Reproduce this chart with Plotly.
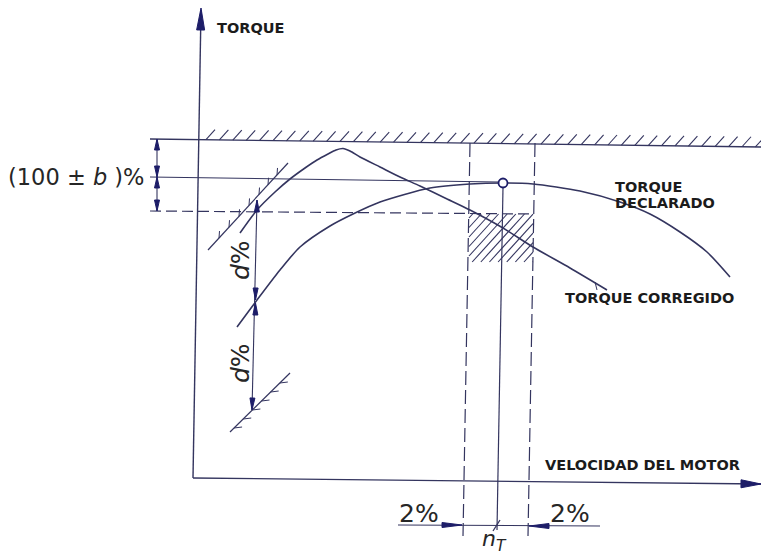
import numpy as np
import plotly.graph_objects as go

# Sheet coordinates: x grows to the right (engine speed), y grows downward.
W, H = 761, 557
LINE = "#34355f"
HEAD = "#1d1d68"
INK = "#1b1b1b"

# --- axes (slightly skewed as on the drawing) -------------------------------
torque_axis_x = [193, 201]
torque_axis_y = [478, 10]
speed_axis_x = [193, 761]
speed_axis_y = [478, 484]

# --- torque curves -----------------------------------------------------------
corr_x = [240, 257, 275, 290, 305, 317, 328, 336, 343, 350, 360, 380, 400, 420, 445, 470, 503, 533, 570, 607]
corr_y = [233, 210, 192, 179, 168, 160, 154, 150, 148.5, 151, 157, 167, 177, 186, 198, 210, 228, 247, 268, 290]

decl_x = [237, 257, 280, 300, 330, 353, 380, 430, 470, 503, 533, 580, 620, 650, 680, 707, 730]
decl_y = [327, 300, 270, 247, 226, 214, 202, 188, 184, 183, 184, 191, 202, 214, 232, 252, 277]

# --- limit / reference lines -----------------------------------------------
upper_limit_x = [150, 761]
upper_limit_y = [139, 147]
declared_x = [150, 499]
declared_y = [177, 182]
lower_band_x = [150, 533]
lower_band_y = [211, 214]
band_left_x = [470, 463]
band_right_x = [535, 528]
band_y = [143, 536]
nT_x = [503, 497]
nT_y = [187, 530]
nT_point = (503, 183)

# tolerance window below the declared torque
window_x = [469, 533]
window_y = [214, 262]

# d% limit lines
d_upper_x = [208, 288]
d_upper_y = [250, 163]
d_lower_x = [230, 290]
d_lower_y = [432, 373]

# dimension chains: (tail, tip)
b_dims = [((157, 158), (157, 139)), ((157, 158), (157, 177)),
          ((157, 194), (157, 177)), ((157, 194), (157, 211))]
d_dims = [((256.5, 250), (257, 200)), ((256, 250), (255.5, 300)),
          ((255, 355), (255.5, 303)), ((254, 355), (252, 410))]
speed_dims = [((398, 525), (462, 525)), ((600, 526), (529, 526))]

fig = go.Figure()


def lines(xs, ys, width=1.3, dash=None, color=LINE, shape="linear"):
    fig.add_trace(go.Scatter(
        x=xs, y=ys, mode="lines", hoverinfo="skip", showlegend=False,
        line=dict(color=color, width=width, dash=dash, shape=shape, smoothing=0.7)))


def head(tail, tip, length, width, color=HEAD):
    tx, ty = tip
    dx, dy = tip[0] - tail[0], tip[1] - tail[1]
    n = np.hypot(dx, dy)
    ux, uy = dx / n, dy / n
    px, py = -uy, ux
    bx, by = tx - ux * length, ty - uy * length
    fig.add_trace(go.Scatter(
        x=[tx, bx + px * width / 2, bx - px * width / 2, tx],
        y=[ty, by + py * width / 2, by - py * width / 2, ty],
        mode="lines", fill="toself", fillcolor=color,
        line=dict(color=color, width=1), hoverinfo="skip", showlegend=False))


def on_line(xs, ys, x):
    return ys[0] + (ys[1] - ys[0]) * (x - xs[0]) / (xs[1] - xs[0])


# axes with arrowheads
lines(torque_axis_x, torque_axis_y, 1.4)
lines(speed_axis_x, speed_axis_y, 1.4)
head((torque_axis_x[0], torque_axis_y[0]), (torque_axis_x[1], torque_axis_y[1] - 2), 22, 8)
head((speed_axis_x[0], speed_axis_y[0]), (speed_axis_x[1], speed_axis_y[1]), 20, 8)

# upper limit line with hatching
lines(upper_limit_x, upper_limit_y, 1.3)
hx, hy = [], []
for x in np.arange(206, 757, 13.4):
    y = on_line(upper_limit_x, upper_limit_y, x)
    hx += [x, x + 9, None]
    hy += [y, y - 10, None]
lines(hx, hy, 1.1)

# declared torque level and lower band
lines(declared_x, declared_y, 1.2)
lines(lower_band_x, lower_band_y, 1.2, dash="11px,5px")
lines(band_left_x, band_y, 1.2, dash="14px,5px")
lines(band_right_x, band_y, 1.2, dash="14px,5px")
lines(nT_x, nT_y, 1.2)

# hatched tolerance window
k = 1.1
wx, wy = [], []
for c in np.arange(window_y[0] + k * window_x[0] + 4, window_y[1] + k * window_x[1], 9.5):
    xa = max(window_x[0], (c - window_y[1]) / k)
    xb = min(window_x[1], (c - window_y[0]) / k)
    if xb > xa:
        wx += [xa, xb, None]
        wy += [c - k * xa, c - k * xb, None]
lines(wx, wy, 1.1)

# torque curves
lines(corr_x, corr_y, 1.6, shape="spline")
lines(decl_x, decl_y, 1.6, shape="spline")
lines([595, 597], [282, 290], 1.0)

# declared-torque point
fig.add_trace(go.Scatter(
    x=[nT_point[0]], y=[nT_point[1]], mode="markers", hoverinfo="skip", showlegend=False,
    marker=dict(size=9, color="white", line=dict(color=HEAD, width=1.8))))

# d% limit lines with ticks
lines(d_upper_x, d_upper_y, 1.2)
tx_, ty_ = [], []
for x in [219, 229, 239, 249, 259, 268, 277]:
    y = on_line(d_upper_x, d_upper_y, x)
    tx_ += [x, x + 0.5, None]
    ty_ += [y, y - 7, None]
lines(tx_, ty_, 1.0)

lines(d_lower_x, d_lower_y, 1.2)
tx_, ty_ = [], []
for y in [383, 392, 401, 410, 419, 428]:
    x = d_lower_x[0] + (d_lower_x[1] - d_lower_x[0]) * (y - d_lower_y[0]) / (d_lower_y[1] - d_lower_y[0])
    tx_ += [x, x + 8, None]
    ty_ += [y, y - 1, None]
lines(tx_, ty_, 1.0)

# dimension lines
lines([157, 157], [139, 211], 1.1)
lines([257, 252], [200, 410], 1.1)
lines([398, 600], [525, 526], 1.1)
lines([493, 500], [531, 520], 1.3)
for tail, tip in b_dims:
    head(tail, tip, 11, 5)
for tail, tip in d_dims:
    head(tail, tip, 12, 5)
for tail, tip in speed_dims:
    head(tail, tip, 20, 5)

BOLD = dict(family="DejaVu Sans", size=14.5, color=INK, weight="bold")
PLAIN = dict(family="DejaVu Sans", size=23, color="#262626")

notes = [
    dict(x=215, y=28, text="TORQUE", font=BOLD, xanchor="left"),
    dict(x=613, y=187, text="TORQUE", font=BOLD, xanchor="left"),
    dict(x=613, y=203, text="DECLARADO", font=BOLD, xanchor="left"),
    dict(x=563, y=298, text="TORQUE CORREGIDO", font=BOLD, xanchor="left"),
    dict(x=543, y=465, text="VELOCIDAD DEL MOTOR", font=BOLD, xanchor="left"),
    dict(x=147, y=177, text="(100 ± <i>b</i> )%", font=dict(PLAIN, size=22.5), xanchor="right"),
    dict(x=419, y=513, text="2%", font=dict(PLAIN, size=25), xanchor="center"),
    dict(x=570, y=513, text="2%", font=dict(PLAIN, size=25), xanchor="center"),
    dict(x=494, y=540, text="<i>n</i><sub><i>T</i></sub>", font=dict(PLAIN, size=22), xanchor="center"),
    dict(x=240, y=260, text="<i>d</i>%", font=dict(PLAIN, size=25), textangle=-90, xanchor="center"),
    dict(x=240, y=363, text="<i>d</i>%", font=dict(PLAIN, size=25), textangle=-90, xanchor="center"),
]
for n in notes:
    fig.add_annotation(xref="x", yref="y", showarrow=False, yanchor="middle", **n)

fig.update_layout(
    width=W, height=H, margin=dict(l=0, r=0, t=0, b=0),
    paper_bgcolor="white", plot_bgcolor="white",
    xaxis=dict(range=[0, W], visible=False, fixedrange=True),
    yaxis=dict(range=[H, 0], visible=False, fixedrange=True),
    showlegend=False,
)

fig.write_html("out.html")
